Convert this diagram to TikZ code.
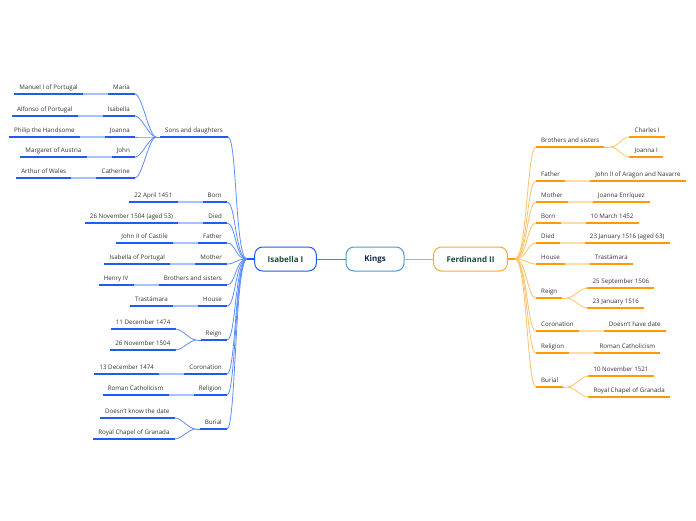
\documentclass[tikz,border=0pt]{standalone}
\usepackage{fontspec}
\setmainfont{Open Sans}
\usetikzlibrary{positioning}

\definecolor{isaline}{HTML}{1F5CF5}
\definecolor{isacurve}{HTML}{5C8DFF}
\definecolor{isalight}{HTML}{A8C2FF}
\definecolor{ferline}{HTML}{FF9A05}
\definecolor{fercurve}{HTML}{FFC266}
\definecolor{ferlight}{HTML}{FFDCA8}
\definecolor{kingsline}{HTML}{4A9AD8}
\definecolor{boxtext}{HTML}{1E4A3C}
\definecolor{kingstext}{HTML}{10264A}
\definecolor{leaftext}{HTML}{333333}

\tikzset{
	every node/.style={font=\fontsize{6.2}{7}\selectfont, text=leaftext},
	mainbox/.style={draw, fill=white, rounded corners=8pt, line width=1pt, minimum height=24pt, inner xsep=13pt, font=\bfseries\fontsize{8}{9}\selectfont, text=boxtext},
	topic/.style={inner xsep=5pt, inner ysep=4.5pt, text height=5pt, text depth=0pt},
	isatopic/.style={topic, append after command={(\tikzlastnode.south west) edge[isaline, line width=1.6pt] (\tikzlastnode.south east)}},
	fertopic/.style={topic, append after command={(\tikzlastnode.south west) edge[ferline, line width=1.6pt] (\tikzlastnode.south east)}},
	isabranch/.style={isacurve, line width=0.8pt},
	ferbranch/.style={fercurve, line width=0.8pt},
	isalink/.style={isalight, line width=1.2pt},
	ferlink/.style={ferlight, line width=1.2pt},
	lbend/.style={out=180, in=0, out distance=12pt, in distance=9pt},
	rbend/.style={out=0, in=180, out distance=12pt, in distance=9pt},
	lsub/.style={out=180, in=0, out distance=7pt, in distance=7pt},
	rsub/.style={out=0, in=180, out distance=7pt, in distance=7pt}
}

\begin{document}
\begin{tikzpicture}[x=1pt, y=-1pt]
	\useasboundingbox (0,0) rectangle (696,520);
	
	% centre
	\node[mainbox, draw=kingsline, text=kingstext, minimum width=58pt] (kings) at (375,259) {Kings};
	\node[mainbox, draw=isaline] (isa) at (285.5,259) {Isabella I};
	\node[mainbox, draw=ferline!85] (fer) at (470.5,259) {Ferdinand II};
	\draw[isaline!80, line width=1pt] (kings) -- (isa);
	\draw[ferline!85, line width=1pt] (kings) -- (fer);
	\coordinate (isaJ) at (247,259);
	\coordinate (ferJ) at (515,259);
	\draw[isaline, line width=1.2pt] (isa.west) -- (isaJ);
	\draw[ferline, line width=1.2pt] (fer.east) -- (ferJ);
	
	% Isabella I
	\node[isatopic, anchor=south east] (isaSons) at (228,137) {Sons and daughters};
	\node[isatopic, anchor=south east] (isaBorn) at (227,202) {Born};
	\node[isatopic, anchor=south east] (isaDied) at (227,223) {Died};
	\node[isatopic, anchor=south east] (isaFather) at (227,243) {Father};
	\node[isatopic, anchor=south east] (isaMother) at (227,264) {Mother};
	\node[isatopic, anchor=south east] (isaSiblings) at (227,285) {Brothers and sisters};
	\node[isatopic, anchor=south east] (isaHouse) at (227,306) {House};
	\node[isatopic, anchor=south east] (isaReign) at (227,340) {Reign};
	\node[isatopic, anchor=south east] (isaCoron) at (227,374) {Coronation};
	\node[isatopic, anchor=south east] (isaReligion) at (227,395) {Religion};
	\node[isatopic, anchor=south east] (isaBurial) at (227,429) {Burial};
	
	\draw[isabranch] (isaJ) to[lbend] (isaSons.south east);
	\draw[isabranch] (isaJ) to[lbend] (isaBorn.south east);
	\draw[isabranch] (isaJ) to[lbend] (isaDied.south east);
	\draw[isabranch] (isaJ) to[lbend] (isaFather.south east);
	\draw[isabranch] (isaJ) to[lbend] (isaMother.south east);
	\draw[isabranch] (isaJ) to[lbend] (isaSiblings.south east);
	\draw[isabranch] (isaJ) to[lbend] (isaHouse.south east);
	\draw[isabranch] (isaJ) to[lbend] (isaReign.south east);
	\draw[isabranch] (isaJ) to[lbend] (isaCoron.south east);
	\draw[isabranch] (isaJ) to[lbend] (isaReligion.south east);
	\draw[isabranch] (isaJ) to[lbend] (isaBurial.south east);
	
	\node[isatopic, left=25pt of isaSons.south west, anchor=south east, yshift=43pt] (isaMaria) {María};
	\node[isatopic, left=25pt of isaSons.south west, anchor=south east, yshift=21pt] (isaIsabella) {Isabella};
	\node[isatopic, left=25pt of isaSons.south west, anchor=south east] (isaJoanna) {Joanna};
	\node[isatopic, left=25pt of isaSons.south west, anchor=south east, yshift=-20pt] (isaJohn) {John};
	\node[isatopic, left=25pt of isaSons.south west, anchor=south east, yshift=-41pt] (isaCatherine) {Catherine};
	\coordinate (isaSonsJ) at ([xshift=-4pt]isaSons.south west);
	\draw[isabranch] (isaSons.south west) -- (isaSonsJ);
	\draw[isabranch] (isaSonsJ) to[lsub] (isaMaria.south east);
	\draw[isabranch] (isaSonsJ) to[lsub] (isaIsabella.south east);
	\draw[isabranch] (isaSonsJ) to[lsub] (isaJoanna.south east);
	\draw[isabranch] (isaSonsJ) to[lsub] (isaJohn.south east);
	\draw[isabranch] (isaSonsJ) to[lsub] (isaCatherine.south east);
	
	\node[isatopic, left=25pt of isaMaria.south west, anchor=south east] (isaManuel) {Manuel I of Portugal};
	\node[isatopic, left=25pt of isaIsabella.south west, anchor=south east] (isaAlfonso) {Alfonso of Portugal};
	\node[isatopic, left=25pt of isaJoanna.south west, anchor=south east] (isaPhilip) {Philip the Handsome};
	\node[isatopic, left=25pt of isaJohn.south west, anchor=south east] (isaMargaret) {Margaret of Austria};
	\node[isatopic, left=25pt of isaCatherine.south west, anchor=south east] (isaArthur) {Arthur of Wales};
	\draw[isalink] (isaMaria.south west) -- (isaManuel.south east);
	\draw[isalink] (isaIsabella.south west) -- (isaAlfonso.south east);
	\draw[isalink] (isaJoanna.south west) -- (isaPhilip.south east);
	\draw[isalink] (isaJohn.south west) -- (isaMargaret.south east);
	\draw[isalink] (isaCatherine.south west) -- (isaArthur.south east);
	
	\node[isatopic, left=25pt of isaBorn.south west, anchor=south east] (isaBornVal) {22 April 1451};
	\node[isatopic, left=25pt of isaDied.south west, anchor=south east] (isaDiedVal) {26 November 1504 (aged 53)};
	\node[isatopic, left=25pt of isaFather.south west, anchor=south east] (isaFatherVal) {John II of Castile};
	\node[isatopic, left=25pt of isaMother.south west, anchor=south east] (isaMotherVal) {Isabella of Portugal};
	\node[isatopic, left=25pt of isaSiblings.south west, anchor=south east] (isaSiblingsVal) {Henry IV};
	\node[isatopic, left=25pt of isaHouse.south west, anchor=south east] (isaHouseVal) {Trastámara};
	\node[isatopic, left=25pt of isaCoron.south west, anchor=south east] (isaCoronVal) {13 December 1474};
	\node[isatopic, left=25pt of isaReligion.south west, anchor=south east] (isaReligionVal) {Roman Catholicism};
	\draw[isalink] (isaBorn.south west) -- (isaBornVal.south east);
	\draw[isalink] (isaDied.south west) -- (isaDiedVal.south east);
	\draw[isalink] (isaFather.south west) -- (isaFatherVal.south east);
	\draw[isalink] (isaMother.south west) -- (isaMotherVal.south east);
	\draw[isalink] (isaSiblings.south west) -- (isaSiblingsVal.south east);
	\draw[isalink] (isaHouse.south west) -- (isaHouseVal.south east);
	\draw[isalink] (isaCoron.south west) -- (isaCoronVal.south east);
	\draw[isalink] (isaReligion.south west) -- (isaReligionVal.south east);
	
	\node[isatopic, left=25pt of isaReign.south west, anchor=south east, yshift=11pt] (isaReignA) {11 December 1474};
	\node[isatopic, left=25pt of isaReign.south west, anchor=south east, yshift=-10pt] (isaReignB) {26 November 1504};
	\coordinate (isaReignJ) at ([xshift=-4pt]isaReign.south west);
	\draw[isabranch] (isaReign.south west) -- (isaReignJ);
	\draw[isabranch] (isaReignJ) to[lsub] (isaReignA.south east);
	\draw[isabranch] (isaReignJ) to[lsub] (isaReignB.south east);
	
	\node[isatopic, left=25pt of isaBurial.south west, anchor=south east, yshift=11pt] (isaBurialA) {Doesn't know the date};
	\node[isatopic, left=25pt of isaBurial.south west, anchor=south east, yshift=-10pt] (isaBurialB) {Royal Chapel of Granada};
	\coordinate (isaBurialJ) at ([xshift=-4pt]isaBurial.south west);
	\draw[isabranch] (isaBurial.south west) -- (isaBurialJ);
	\draw[isabranch] (isaBurialJ) to[lsub] (isaBurialA.south east);
	\draw[isabranch] (isaBurialJ) to[lsub] (isaBurialB.south east);
	
	% Ferdinand II
	\node[fertopic, anchor=south west] (ferSiblings) at (536,147) {Brothers and sisters};
	\node[fertopic, anchor=south west] (ferFather) at (536,181) {Father};
	\node[fertopic, anchor=south west] (ferMother) at (536,202) {Mother};
	\node[fertopic, anchor=south west] (ferBorn) at (536,223) {Born};
	\node[fertopic, anchor=south west] (ferDied) at (536,243) {Died};
	\node[fertopic, anchor=south west] (ferHouse) at (536,264) {House};
	\node[fertopic, anchor=south west] (ferReign) at (536,298) {Reign};
	\node[fertopic, anchor=south west] (ferCoron) at (536,331) {Coronation};
	\node[fertopic, anchor=south west] (ferReligion) at (536,353) {Religion};
	\node[fertopic, anchor=south west] (ferBurial) at (536,387) {Burial};
	
	\draw[ferbranch] (ferJ) to[rbend] (ferSiblings.south west);
	\draw[ferbranch] (ferJ) to[rbend] (ferFather.south west);
	\draw[ferbranch] (ferJ) to[rbend] (ferMother.south west);
	\draw[ferbranch] (ferJ) to[rbend] (ferBorn.south west);
	\draw[ferbranch] (ferJ) to[rbend] (ferDied.south west);
	\draw[ferbranch] (ferJ) to[rbend] (ferHouse.south west);
	\draw[ferbranch] (ferJ) to[rbend] (ferReign.south west);
	\draw[ferbranch] (ferJ) to[rbend] (ferCoron.south west);
	\draw[ferbranch] (ferJ) to[rbend] (ferReligion.south west);
	\draw[ferbranch] (ferJ) to[rbend] (ferBurial.south west);
	
	\node[fertopic, right=25pt of ferSiblings.south east, anchor=south west, yshift=10pt] (ferCharles) {Charles I};
	\node[fertopic, right=25pt of ferSiblings.south east, anchor=south west, yshift=-10pt] (ferJoanna) {Joanna I};
	\coordinate (ferSiblingsJ) at ([xshift=6pt]ferSiblings.south east);
	\draw[ferbranch] (ferSiblings.south east) -- (ferSiblingsJ);
	\draw[ferbranch] (ferSiblingsJ) to[rsub] (ferCharles.south west);
	\draw[ferbranch] (ferSiblingsJ) to[rsub] (ferJoanna.south west);
	
	\node[fertopic, right=25pt of ferFather.south east, anchor=south west] (ferFatherVal) {John II of Aragon and Navarre};
	\node[fertopic, right=25pt of ferMother.south east, anchor=south west] (ferMotherVal) {Joanna Enríquez};
	\node[fertopic, right=25pt of ferBorn.south east, anchor=south west] (ferBornVal) {10 March 1452};
	\node[fertopic, right=25pt of ferDied.south east, anchor=south west] (ferDiedVal) {23 January 1516 (aged 63)};
	\node[fertopic, right=25pt of ferHouse.south east, anchor=south west] (ferHouseVal) {Trastámara};
	\node[fertopic, right=25pt of ferCoron.south east, anchor=south west] (ferCoronVal) {Doesn't have date};
	\node[fertopic, right=25pt of ferReligion.south east, anchor=south west] (ferReligionVal) {Roman Catholicism};
	\draw[ferlink] (ferFather.south east) -- (ferFatherVal.south west);
	\draw[ferlink] (ferMother.south east) -- (ferMotherVal.south west);
	\draw[ferlink] (ferBorn.south east) -- (ferBornVal.south west);
	\draw[ferlink] (ferDied.south east) -- (ferDiedVal.south west);
	\draw[ferlink] (ferHouse.south east) -- (ferHouseVal.south west);
	\draw[ferlink] (ferCoron.south east) -- (ferCoronVal.south west);
	\draw[ferlink] (ferReligion.south east) -- (ferReligionVal.south west);
	
	\node[fertopic, right=25pt of ferReign.south east, anchor=south west, yshift=10pt] (ferReignA) {25 September 1506};
	\node[fertopic, right=25pt of ferReign.south east, anchor=south west, yshift=-10pt] (ferReignB) {23 January 1516};
	\coordinate (ferReignJ) at ([xshift=4pt]ferReign.south east);
	\draw[ferbranch] (ferReign.south east) -- (ferReignJ);
	\draw[ferbranch] (ferReignJ) to[rsub] (ferReignA.south west);
	\draw[ferbranch] (ferReignJ) to[rsub] (ferReignB.south west);
	
	\node[fertopic, right=25pt of ferBurial.south east, anchor=south west, yshift=11pt] (ferBurialA) {10 November 1521};
	\node[fertopic, right=25pt of ferBurial.south east, anchor=south west, yshift=-10pt] (ferBurialB) {Royal Chapel of Granada};
	\coordinate (ferBurialJ) at ([xshift=4pt]ferBurial.south east);
	\draw[ferbranch] (ferBurial.south east) -- (ferBurialJ);
	\draw[ferbranch] (ferBurialJ) to[rsub] (ferBurialA.south west);
	\draw[ferbranch] (ferBurialJ) to[rsub] (ferBurialB.south west);
\end{tikzpicture}
\end{document}
